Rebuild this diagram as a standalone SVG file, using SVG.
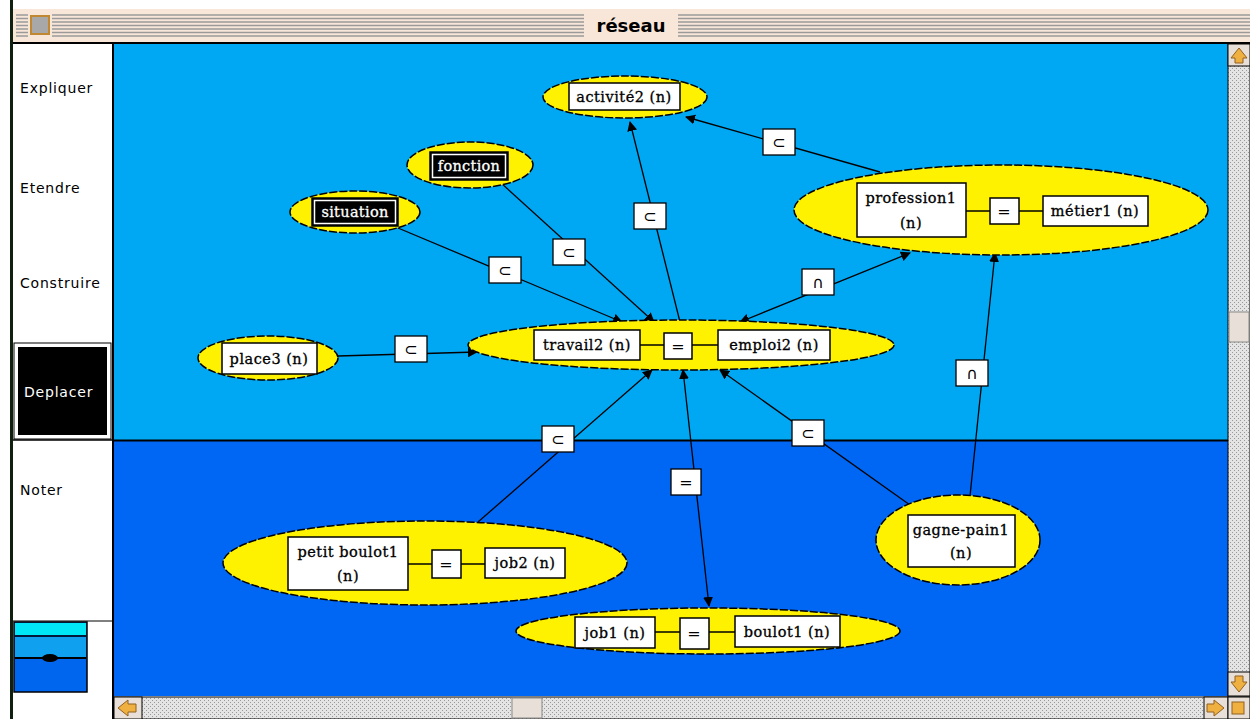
<svg xmlns="http://www.w3.org/2000/svg" width="1250" height="719" viewBox="0 0 1250 719">
<style>
.nl{font-family:"DejaVu Serif","Liberation Serif",serif;font-size:14.5px;letter-spacing:0.5px;fill:#000;stroke:#000;stroke-width:0.3;text-anchor:middle}
.nw{font-family:"DejaVu Serif","Liberation Serif",serif;font-size:14.5px;letter-spacing:0.3px;fill:#fff;stroke:#fff;stroke-width:0.3;text-anchor:middle}
.pl{font-family:"DejaVu Sans","Liberation Sans",sans-serif;font-size:14px;letter-spacing:0.8px;fill:#000}
.ell{fill:#FFF200;stroke:#000;stroke-width:1.5;stroke-dasharray:8 2}
.box{fill:#fff;stroke:#000;stroke-width:1.5}
.bbox{fill:#000;stroke:#000;stroke-width:1.5}
.edge{stroke:#000;stroke-width:1.3;fill:none}
.lbl{fill:#fff;stroke:#000;stroke-width:1.3}
.sym{font-family:"DejaVu Sans","Liberation Sans",sans-serif;font-size:16px;fill:#000;text-anchor:middle}
.stripe{stroke:#9a9a9a;stroke-width:1.6}
</style>
<defs>
<marker id="ah" viewBox="0 0 10 10" refX="9" refY="5" markerWidth="10" markerHeight="10" orient="auto-start-reverse" markerUnits="userSpaceOnUse">
<path d="M0,0 L10,5 L0,10 Z" fill="#000"/>
</marker>
<pattern id="stip" width="4" height="4" patternUnits="userSpaceOnUse">
<rect width="4" height="4" fill="#e4e4e4"/>
<rect x="0" y="0" width="1" height="1" fill="#999"/>
<rect x="2" y="2" width="1" height="1" fill="#999"/>
</pattern>
</defs>
<rect width="1250" height="719" fill="#fff"/>
<rect x="10" y="0" width="3" height="719" fill="#102010"/>
<g id="titlebar">
<rect x="13" y="9" width="1237" height="34" fill="#F8E6D8"/>
<g class="stripe">
<line x1="16" y1="15" x2="1250" y2="15"/>
<line x1="16" y1="18.5" x2="1250" y2="18.5"/>
<line x1="16" y1="22" x2="1250" y2="22"/>
<line x1="16" y1="25.5" x2="1250" y2="25.5"/>
<line x1="16" y1="29" x2="1250" y2="29"/>
<line x1="16" y1="32.5" x2="1250" y2="32.5"/>
<line x1="16" y1="36" x2="1250" y2="36"/>
</g>
<rect x="28" y="13" width="24" height="24" fill="#F8E6D8"/>
<rect x="31" y="16" width="18" height="18" fill="#a8a8a8" stroke="#c08830" stroke-width="2"/>
<rect x="584" y="13" width="94" height="26" fill="#F8E6D8"/>
<text x="631" y="32" font-family="DejaVu Sans,Liberation Sans,sans-serif" font-size="18" font-weight="bold" text-anchor="middle" fill="#000">réseau</text>
<line x1="13" y1="43" x2="1250" y2="43" stroke="#000" stroke-width="2"/>
</g>
<g id="panel">
<rect x="13" y="44" width="100" height="675" fill="#fff"/>
<line x1="113" y1="44" x2="113" y2="719" stroke="#000" stroke-width="2"/>
<text class="pl" x="20" y="93">Expliquer</text>
<text class="pl" x="20" y="193">Etendre</text>
<text class="pl" x="20" y="288">Construire</text>
<rect x="14" y="343" width="97" height="96" fill="#fff" stroke="#000" stroke-width="1"/>
<rect x="18" y="347" width="89" height="88" fill="#000"/>
<text class="pl" x="24" y="397" style="fill:#fff">Deplacer</text>
<line x1="13" y1="440" x2="113" y2="440" stroke="#000" stroke-width="1.5"/>
<text class="pl" x="20" y="495">Noter</text>
<line x1="13" y1="621" x2="113" y2="621" stroke="#000" stroke-width="1"/>
<rect x="14" y="622" width="73" height="70" fill="#0066EE" stroke="#000" stroke-width="1.5"/>
<rect x="15" y="623" width="71" height="12" fill="#00E8F8"/>
<line x1="15" y1="636" x2="86" y2="636" stroke="#000" stroke-width="1.5"/>
<rect x="15" y="637" width="71" height="20" fill="#10A0F0"/>
<line x1="15" y1="658" x2="86" y2="658" stroke="#000" stroke-width="2"/>
<ellipse cx="50" cy="658" rx="8" ry="4" fill="#000"/>
</g>
<rect x="114" y="44" width="1114" height="396" fill="#00A8F4"/>
<rect x="114" y="441" width="1114" height="255" fill="#0066F4"/>
<line x1="114" y1="440.5" x2="1228" y2="440.5" stroke="#000" stroke-width="2"/>
<g id="scrollbars">
<rect x="1228" y="44" width="22" height="652" fill="url(#stip)" stroke="#000" stroke-width="1"/>
<rect x="1228" y="44" width="22" height="22" fill="#E8E0D8" stroke="#000" stroke-width="1"/>
<path d="M1239,48 L1247,58 L1243,58 L1243,63 L1235,63 L1235,58 L1231,58 Z" fill="#F0B040" stroke="#906020" stroke-width="1"/>
<rect x="1229" y="312" width="20" height="30" fill="#E8E0D8" stroke="#888" stroke-width="1"/>
<rect x="1228" y="672" width="22" height="24" fill="#E8E0D8" stroke="#000" stroke-width="1"/>
<path d="M1239,692 L1247,682 L1243,682 L1243,676 L1235,676 L1235,682 L1231,682 Z" fill="#F0B040" stroke="#906020" stroke-width="1"/>
<rect x="114" y="697" width="1114" height="22" fill="url(#stip)" stroke="#000" stroke-width="1"/>
<rect x="114" y="697" width="28" height="22" fill="#E8E0D8" stroke="#000" stroke-width="1"/>
<path d="M118,708 L128,700 L128,704 L136,704 L136,712 L128,712 L128,716 Z" fill="#F0B040" stroke="#906020" stroke-width="1"/>
<rect x="512" y="698" width="30" height="20" fill="#E8E0D8" stroke="#888" stroke-width="1"/>
<rect x="1204" y="697" width="24" height="22" fill="#E8E0D8" stroke="#000" stroke-width="1"/>
<path d="M1224,708 L1214,700 L1214,704 L1207,704 L1207,712 L1214,712 L1214,716 Z" fill="#F0B040" stroke="#906020" stroke-width="1"/>
<rect x="1228" y="697" width="22" height="22" fill="#E8E0D8" stroke="#000" stroke-width="1"/>
<rect x="1232" y="702" width="12" height="12" fill="#F0B040" stroke="#906020" stroke-width="1"/>
</g>
<g id="connectors">
<line class="edge" x1="680" y1="322" x2="630" y2="122" marker-end="url(#ah)"/>
<line class="edge" x1="880" y1="172" x2="686" y2="117" marker-end="url(#ah)"/>
<line class="edge" x1="500" y1="182" x2="654" y2="322" marker-end="url(#ah)"/>
<line class="edge" x1="398" y1="228" x2="622" y2="322" marker-end="url(#ah)"/>
<line class="edge" x1="338" y1="356" x2="477" y2="352" marker-end="url(#ah)"/>
<line class="edge" x1="740" y1="322" x2="910" y2="253" marker-start="url(#ah)" marker-end="url(#ah)"/>
<line class="edge" x1="970" y1="496" x2="995" y2="253" marker-end="url(#ah)"/>
<line class="edge" x1="910" y1="505" x2="720" y2="370" marker-end="url(#ah)"/>
<line class="edge" x1="478" y1="522" x2="652" y2="370" marker-end="url(#ah)"/>
<line class="edge" x1="709" y1="606" x2="683" y2="370" marker-start="url(#ah)" marker-end="url(#ah)"/>
<rect class="lbl" x="634" y="203" width="32" height="26"/><text class="sym" x="650" y="222">⊂</text>
<rect class="lbl" x="763" y="129" width="32" height="26"/><text class="sym" x="779" y="148">⊂</text>
<rect class="lbl" x="553" y="239" width="32" height="26"/><text class="sym" x="569" y="258">⊂</text>
<rect class="lbl" x="489" y="257" width="32" height="26"/><text class="sym" x="505" y="276">⊂</text>
<rect class="lbl" x="395" y="336" width="32" height="26"/><text class="sym" x="411" y="355">⊂</text>
<rect class="lbl" x="802" y="269" width="32" height="26"/><text class="sym" x="818" y="288">∩</text>
<rect class="lbl" x="956" y="360" width="32" height="26"/><text class="sym" x="972" y="379">∩</text>
<rect class="lbl" x="792" y="420" width="32" height="26"/><text class="sym" x="808" y="439">⊂</text>
<rect class="lbl" x="542" y="426" width="32" height="26"/><text class="sym" x="558" y="445">⊂</text>
<rect class="lbl" x="671" y="469" width="30" height="26"/><text class="sym" x="686" y="488">=</text>
</g>
<g id="n-activite2">
<ellipse class="ell" cx="625" cy="97" rx="82" ry="21"/>
<rect class="box" x="569" y="83" width="111" height="27"/>
<text class="nl" x="624" y="102">activité2 (n)</text>
</g>
<g id="n-fonction">
<ellipse class="ell" cx="470" cy="165" rx="63" ry="23"/>
<rect class="bbox" x="430" y="152" width="78" height="28"/>
<rect x="432.5" y="154.5" width="73" height="23" fill="none" stroke="#fff" stroke-width="1.5"/>
<text class="nw" x="469" y="171">fonction</text>
</g>
<g id="n-situation">
<ellipse class="ell" cx="355" cy="212" rx="65" ry="21"/>
<rect class="bbox" x="312" y="198" width="86" height="28"/>
<rect x="314.5" y="200.5" width="81" height="23" fill="none" stroke="#fff" stroke-width="1.5"/>
<text class="nw" x="355" y="217">situation</text>
</g>
<g id="n-profession1">
<ellipse class="ell" cx="1001" cy="210" rx="207" ry="45"/>
<line x1="966" y1="211" x2="1043" y2="211" stroke="#000" stroke-width="1.5"/>
<rect class="box" x="857" y="183" width="109" height="54"/>
<text class="nl" x="911" y="203">profession1</text>
<text class="nl" x="911" y="228">(n)</text>
<rect class="box" x="990" y="198" width="29" height="26"/>
<text class="sym" x="1004" y="217">=</text>
<rect class="box" x="1043" y="196" width="105" height="30"/>
<text class="nl" x="1095" y="216">métier1 (n)</text>
</g>
<g id="n-place3">
<ellipse class="ell" cx="268" cy="358" rx="70" ry="22"/>
<rect class="box" x="222" y="343" width="95" height="31"/>
<text class="nl" x="269" y="364">place3 (n)</text>
</g>
<g id="n-travail2">
<ellipse class="ell" cx="681" cy="345" rx="213" ry="25"/>
<line x1="640" y1="345" x2="718" y2="345" stroke="#000" stroke-width="1.5"/>
<rect class="box" x="534" y="330" width="106" height="30"/>
<text class="nl" x="587" y="350">travail2 (n)</text>
<rect class="box" x="664" y="333" width="28" height="26"/>
<text class="sym" x="678" y="352">=</text>
<rect class="box" x="718" y="330" width="112" height="30"/>
<text class="nl" x="774" y="350">emploi2 (n)</text>
</g>
<g id="n-petitboulot1">
<ellipse class="ell" cx="425" cy="563" rx="202" ry="42"/>
<line x1="408" y1="564" x2="485" y2="564" stroke="#000" stroke-width="1.5"/>
<rect class="box" x="288" y="537" width="120" height="53"/>
<text class="nl" x="348" y="557">petit boulot1</text>
<text class="nl" x="348" y="581">(n)</text>
<rect class="box" x="432" y="550" width="29" height="28"/>
<text class="sym" x="446" y="570">=</text>
<rect class="box" x="485" y="548" width="80" height="30"/>
<text class="nl" x="525" y="568">job2 (n)</text>
</g>
<g id="n-job1">
<ellipse class="ell" cx="708" cy="631" rx="192" ry="23"/>
<line x1="655" y1="632" x2="735" y2="632" stroke="#000" stroke-width="1.5"/>
<rect class="box" x="575" y="617" width="80" height="31"/>
<text class="nl" x="615" y="638">job1 (n)</text>
<rect class="box" x="680" y="618" width="29" height="31"/>
<text class="sym" x="694" y="639">=</text>
<rect class="box" x="735" y="616" width="105" height="31"/>
<text class="nl" x="787" y="637">boulot1 (n)</text>
</g>
<g id="n-gagnepain1">
<ellipse class="ell" cx="958" cy="540" rx="82" ry="45"/>
<rect class="box" x="908" y="515" width="107" height="52"/>
<text class="nl" x="961" y="535">gagne-pain1</text>
<text class="nl" x="961" y="558">(n)</text>
</g>
</svg>
